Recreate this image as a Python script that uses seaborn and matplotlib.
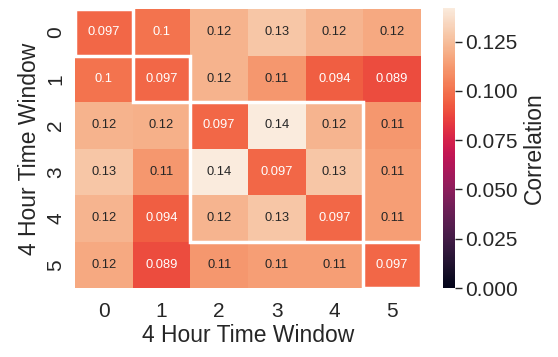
import numpy as np
import pandas as pd
import matplotlib
matplotlib.use("Agg")
import matplotlib.pyplot as plt
from matplotlib.patches import Rectangle
import seaborn as sns

labels = [0, 1, 2, 3, 4, 5]
row0 = [0.097, 0.100, 0.121, 0.128, 0.122, 0.118]
row1 = [0.100, 0.097, 0.121, 0.112, 0.094, 0.089]
row2 = [0.121, 0.120, 0.097, 0.142, 0.122, 0.112]
row3 = [0.128, 0.112, 0.142, 0.097, 0.128, 0.114]
row4 = [0.122, 0.094, 0.122, 0.128, 0.097, 0.114]
row5 = [0.118, 0.089, 0.112, 0.114, 0.114, 0.097]
clusters = [[0], [1], [2, 3, 4], [5]]

sns.set_theme(style="white")
plt.rcParams['font.family'] = ['Liberation Sans', 'DejaVu Sans']
plt.rcParams['text.color'] = '#262626'

df = pd.DataFrame([row0, row1, row2, row3, row4, row5], index=labels, columns=labels)

fig = plt.figure(figsize=(5.58, 3.57), dpi=100)
ax = fig.add_axes([75/558, 1-288/357, 346/558, 279/357])
cax = fig.add_axes([443/558, 1-288/357, 12/558, 280/357])

sns.heatmap(df, ax=ax, cbar_ax=cax, vmin=0, annot=True, fmt=".2g",
            annot_kws={"size": 9.3}, cbar_kws={"label": "Correlation"})

for c in clusters:
    s = c[0]
    n = len(c)
    ax.add_patch(Rectangle((s, s), n, n, fill=False, edgecolor='white', lw=2.5))

ax.set_xlabel("4 Hour Time Window", fontsize=16.5, color='#262626', labelpad=2)
ax.set_ylabel("4 Hour Time Window", fontsize=16.5, color='#262626', labelpad=4)
ax.tick_params(axis='both', labelsize=15, colors='#262626', length=0)
ax.tick_params(axis='x', pad=10)
ax.tick_params(axis='y', pad=7, rotation=90)
for t in ax.get_yticklabels():
    t.set_va('center')
cax.tick_params(labelsize=15, colors='#262626', length=5, width=1, pad=2)
cax.yaxis.label.set_size(16.5)
cax.yaxis.label.set_color('#262626')

fig.savefig("out.png", dpi=100)
